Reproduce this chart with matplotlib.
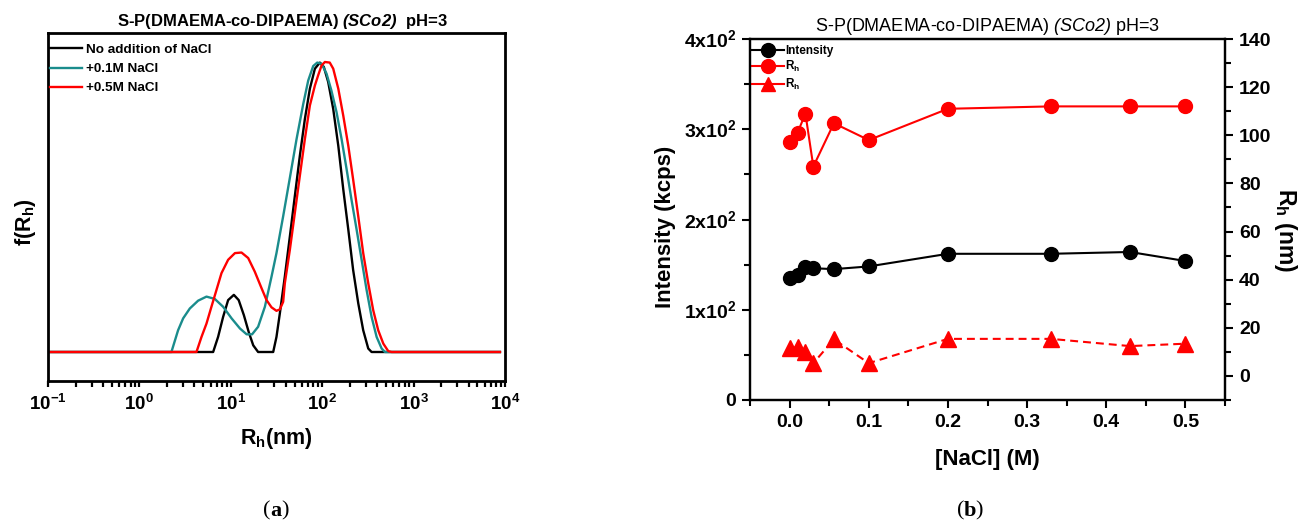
import matplotlib
matplotlib.use('Agg')
import matplotlib.pyplot as plt
from matplotlib.ticker import MultipleLocator, LogLocator, FixedLocator, FixedFormatter, NullFormatter, FormatStrFormatter
from matplotlib.lines import Line2D

plt.rcParams['font.family'] = ['Liberation Sans', 'DejaVu Sans']
plt.rcParams['mathtext.fontset'] = 'custom'
plt.rcParams['mathtext.rm'] = 'Liberation Sans'
plt.rcParams['mathtext.bf'] = 'Liberation Sans:bold'
plt.rcParams['mathtext.sf'] = 'Liberation Sans:italic:bold'   # bold italic, title (a)
plt.rcParams['mathtext.tt'] = 'Liberation Sans:italic'        # plain italic, title (b)

# ---- panel (a): size distributions f(Rh) ----
rh_none = [0.1, 6.41, 7.26, 8.24, 9.35, 10.8, 12.2, 13.9, 15.7, 17.6, 19.9, 27.9, 29.1, 31.6, 34.4,
           39.0, 44.3, 50.2, 56.9, 64.6, 73.3, 83.2, 94.3, 104.2, 116.3, 132, 150, 170, 193, 218,
           248, 281, 319, 347, 8800]
f_none = [0, 0, 0.052, 0.121, 0.179, 0.197, 0.179, 0.127, 0.069, 0.023, 0, 0, 0, 0.052, 0.133,
          0.260, 0.399, 0.538, 0.676, 0.803, 0.908, 0.977, 0.998, 0.983, 0.931, 0.838, 0.711, 0.561, 0.422, 0.283,
          0.168, 0.075, 0.012, 0, 0]

rh_01 = [0.1, 2.24, 2.65, 3.01, 3.56, 4.39, 5.42, 6.68, 8.24, 10.2, 12.6, 14.9, 17.1, 19.9, 23.6,
         27.9, 31.6, 37.4, 44.3, 52.4, 62.0, 70.3, 79.7, 88.2, 98.4, 111.5, 126, 143.5, 163, 185,
         209, 238, 270, 306, 347, 394, 447, 486, 8800]
f_01 = [0, 0, 0.075, 0.116, 0.150, 0.177, 0.191, 0.183, 0.156, 0.116, 0.081, 0.061, 0.061, 0.087, 0.156,
        0.260, 0.341, 0.468, 0.601, 0.734, 0.855, 0.936, 0.986, 0.998, 0.994, 0.960, 0.902, 0.827, 0.734, 0.630,
        0.526, 0.422, 0.318, 0.214, 0.121, 0.052, 0.012, 0, 0]

rh_05 = [0.1, 4.21, 4.78, 5.42, 6.14, 6.97, 7.91, 9.35, 11.1, 13.1, 15.5, 18.3, 21.7, 24.6, 27.9,
         31.6, 34.4, 37.4, 39.0, 44.3, 50.2, 56.9, 64.6, 73.3, 83.2, 90.3, 98.4, 107, 121, 132,
         150, 170, 193, 218, 248, 281, 319, 361, 410, 466, 528, 574, 8800]
f_05 = [0, 0, 0.052, 0.098, 0.156, 0.214, 0.272, 0.318, 0.341, 0.343, 0.324, 0.277, 0.220, 0.179, 0.154,
        0.142, 0.147, 0.173, 0.237, 0.353, 0.480, 0.607, 0.734, 0.850, 0.919, 0.954, 0.988, 1.0, 0.998, 0.977,
        0.908, 0.815, 0.711, 0.595, 0.468, 0.341, 0.237, 0.145, 0.075, 0.029, 0.003, 0, 0]

# ---- panel (b): vs NaCl concentration ----
nacl = [0, 0.01, 0.02, 0.03, 0.056, 0.1, 0.2, 0.33, 0.43, 0.5]
intensity = [135, 139, 147, 146, 145, 148, 162, 162, 164, 154]
rh_slow = [97, 101, 109, 87, 105, 98, 111, 112, 112, 112]
rh_fast = [11.5, 12, 10.1, 5.3, 15.2, 5.3, 15.4, 15.4, 12.4, 13.4]

teal = '#1a8c8c'
red = '#ff0000'

fig = plt.figure(figsize=(12.99, 5.25), dpi=100)

# ============ (a) ============
ax1 = fig.add_axes([48 / 1299, 1 - 381 / 525, 457 / 1299, 348 / 525])
ax1.plot(rh_none, f_none, color='black', lw=1.7, label='No addition of NaCl')
ax1.plot(rh_01, f_01, color=teal, lw=1.7, label='+0.1M NaCl')
ax1.plot(rh_05, f_05, color=red, lw=1.7, label='+0.5M NaCl')
ax1.set_xscale('log')
ax1.set_xlim(0.1, 1e4)
ax1.set_ylim(-0.1, 1.1)
ax1.set_yticks([])
ax1.xaxis.set_major_locator(FixedLocator([0.1, 1, 10, 100, 1000, 10000]))
ax1.xaxis.set_major_formatter(FixedFormatter([r'10$^{\mathbf{-1}}$', r'10$^{\mathbf{0}}$', r'10$^{\mathbf{1}}$',
                                              r'10$^{\mathbf{2}}$', r'10$^{\mathbf{3}}$', r'10$^{\mathbf{4}}$']))
ax1.xaxis.set_minor_locator(LogLocator(base=10, subs=range(2, 10), numticks=20))
ax1.xaxis.set_minor_formatter(NullFormatter())
ax1.tick_params(axis='x', which='both', direction='out', length=4, width=1.6)
ax1.tick_params(axis='x', which='major', labelsize=13.5, pad=5)
for lab in ax1.get_xticklabels():
    lab.set_fontweight('bold')
for s in ax1.spines.values():
    s.set_linewidth(2)
ax1.set_xlabel(r'R$_{\mathbf{h}}$(nm)', fontsize=15.5, fontweight='bold')
ax1.xaxis.set_label_coords(0.501, -0.129)
ax1.set_ylabel(r'f(R$_{\mathbf{h}}$)', fontsize=15.5, fontweight='bold')
ax1.yaxis.set_label_coords(-0.022, 0.457)
ax1.set_title(r'S-P(DMAEMA-co-DIPAEMA) $\mathsf{(SCo2)}$  pH=3', fontsize=12,
              fontweight='bold', pad=5, x=0.513)
ax1.legend(loc='upper left', bbox_to_anchor=(0.0, 0.975), frameon=False, handlelength=2.4,
           handletextpad=0.3, borderaxespad=0, borderpad=0.15, labelspacing=0.5,
           prop={'weight': 'bold', 'size': 9.7})

# ============ (b) ============
ax2 = fig.add_axes([750 / 1299, 1 - 400 / 525, 475 / 1299, 361 / 525])
ax3 = ax2.twinx()
ax2.plot(nacl, intensity, color='black', lw=1.5, marker='o', ms=10)
ax3.plot(nacl, rh_slow, color=red, lw=1.5, marker='o', ms=10)
ax3.plot(nacl, rh_fast, color=red, lw=1.5, ls=(0, (3.8, 2.4)), marker='^', ms=11)
ax2.set_xlim(-0.05, 0.55)
ax2.set_ylim(0, 400)
ax3.set_ylim(-10, 140)
ax2.xaxis.set_major_locator(MultipleLocator(0.1))
ax2.xaxis.set_minor_locator(MultipleLocator(0.05))
ax2.xaxis.set_major_formatter(FormatStrFormatter('%.1f'))
ax2.yaxis.set_major_locator(FixedLocator([0, 100, 200, 300, 400]))
ax2.yaxis.set_major_formatter(FixedFormatter(['0', r'1x10$^{\mathbf{2}}$', r'2x10$^{\mathbf{2}}$',
                                              r'3x10$^{\mathbf{2}}$', r'4x10$^{\mathbf{2}}$']))
ax2.yaxis.set_minor_locator(MultipleLocator(50))
ax3.yaxis.set_major_locator(FixedLocator([0, 20, 40, 60, 80, 100, 120, 140]))
ax3.yaxis.set_minor_locator(MultipleLocator(10))
for a in (ax2, ax3):
    a.tick_params(which='both', direction='out', width=1.5, labelsize=14, pad=4)
    a.tick_params(which='major', length=6)
    a.tick_params(which='minor', length=4)
    for s in a.spines.values():
        s.set_linewidth(1.6)
for lab in ax2.get_xticklabels() + ax2.get_yticklabels() + ax3.get_yticklabels():
    lab.set_fontweight('bold')
ax2.set_xlabel('[NaCl] (M)', fontsize=16, fontweight='bold')
ax2.xaxis.set_label_coords(0.5, -0.135)
ax2.set_ylabel('Intensity (kcps)', fontsize=16, fontweight='bold')
ax2.yaxis.set_label_coords(-0.156, 0.479)
ax3.set_ylabel(r'R$_{\mathbf{h}}$ (nm)', fontsize=16.5, fontweight='bold', rotation=270, va='bottom')
ax3.yaxis.set_label_coords(1.099, 0.471)
ax2.set_title(r'S-P(DMAEMA-co-DIPAEMA) $\mathtt{(SCo2)}$ pH=3', fontsize=13, pad=6)

handles = [Line2D([], [], color='black', lw=1.5, marker='o', ms=10),
           Line2D([], [], color=red, lw=1.5, marker='o', ms=10),
           Line2D([], [], color=red, lw=1.5, marker='^', ms=10)]
ax2.legend(handles, ['Intensity', r'R$_{\mathbf{h}}$', r'R$_{\mathbf{h}}$'], loc='upper left',
           bbox_to_anchor=(0.0, 0.99), frameon=False, handlelength=2.7, handletextpad=0.05,
           borderaxespad=0.0, borderpad=0.2, labelspacing=0.2, prop={'size': 8.5, 'weight': 'bold'})

# panel captions: "(a)" / "(b)" with bold letters
for cx, letter in [(276, 'a'), (970, 'b')]:
    x = cx / 1299
    y = 1 - 511 / 525
    fig.text(x, y, letter, fontsize=16, family='Liberation Serif', weight='bold', ha='center', va='center')
    fig.text(x - 5.5 / 1299, y, '(', fontsize=16, family='Liberation Serif', ha='right', va='center')
    fig.text(x + 5.5 / 1299, y, ')', fontsize=16, family='Liberation Serif', ha='left', va='center')

plt.savefig('out.png', dpi=100)
